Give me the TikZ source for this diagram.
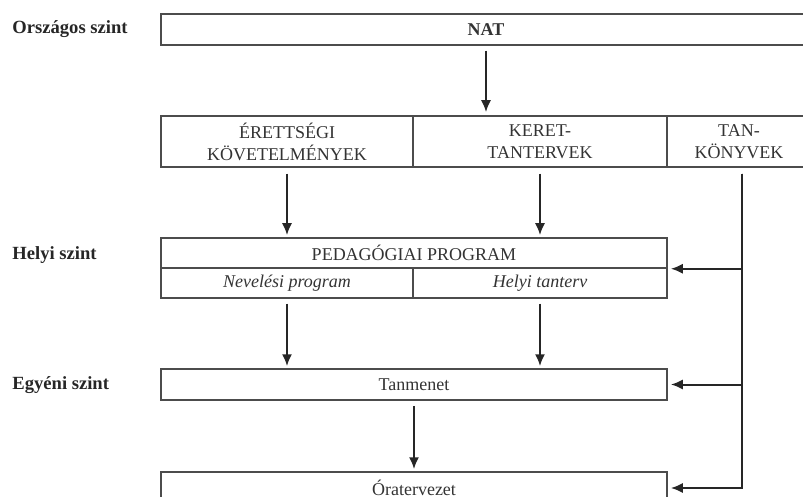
\documentclass[tikz,border=0pt]{standalone}
\usepackage{fontspec}
\setmainfont{Liberation Serif}
\usetikzlibrary{arrows.meta}
\tikzset{
  doboz/.style={draw=black!70, line width=0.75pt, text=black!80, align=center,
    inner sep=0pt, font=\fontsize{9}{11}\selectfont},
  szint/.style={anchor=west, inner sep=0pt, text=black!85, font=\fontsize{9.3}{11}\selectfont\bfseries},
  nyil/.style={-{Latex[length=6pt,width=5pt]}, line width=1pt, draw=black!85},
}
\begin{document}
\begin{tikzpicture}[x=0.5pt, y=-0.5pt]
    \clip (0,0) rectangle (803,497);
    % Szintek
    \node[szint] (orszagos) at (12,29) {Országos szint};
    \node[szint] (helyi) at (12,255) {Helyi szint};
    \node[szint] (egyeni) at (12,385) {Egyéni szint};
    % Országos dokumentumok
    \node[doboz, minimum width=325pt, minimum height=15.5pt, font=\fontsize{9}{11}\selectfont\bfseries] (nat) at (486,29.5) {NAT};
    \node[doboz, minimum width=126pt, minimum height=25.5pt] (erett) at (287,141.5) {ÉRETTSÉGI\\KÖVETELMÉNYEK};
    \node[doboz, minimum width=127pt, minimum height=25.5pt] (keret) at (540,141.5) {KERET-\\TANTERVEK};
    \node[doboz, minimum width=72pt, minimum height=25.5pt] (tank) at (739,141.5) {TAN-\\KÖNYVEK};
    % Helyi dokumentumok
    \node[doboz, minimum width=253pt, minimum height=15pt] (pedprog) at (414,253) {PEDAGÓGIAI PROGRAM};
    \node[doboz, minimum width=126pt, minimum height=15pt] (neveles) at (287,283) {\itshape Nevelési program};
    \node[doboz, minimum width=127pt, minimum height=15pt] (tanterv) at (540,283) {\itshape Helyi tanterv};
    % Egyéni szint
    \node[doboz, minimum width=253pt, minimum height=15.5pt] (tanmenet) at (414,384.5) {Tanmenet};
    \node[doboz, minimum width=253pt, minimum height=16pt] (ora) at (414,488) {Óratervezet};
    % Nyilak lefelé
    \draw[nyil, shorten <=2.5pt, shorten >=1.5pt] (nat.south) -- (nat.south |- keret.north);
    \draw[nyil, shorten <=3pt, shorten >=1pt] (erett.south) -- (erett.south |- pedprog.north);
    \draw[nyil, shorten <=3pt, shorten >=1pt] (keret.south) -- (keret.south |- pedprog.north);
    \draw[nyil, shorten <=2.5pt, shorten >=1pt] (neveles.south) -- (neveles.south |- tanmenet.north);
    \draw[nyil, shorten <=2.5pt, shorten >=1pt] (tanterv.south) -- (tanterv.south |- tanmenet.north);
    \draw[nyil, shorten <=2.5pt, shorten >=1pt] (tanmenet.south) -- (ora.north);
    % Tankönyvek minden szintre
    \draw[nyil] ([xshift=1.5pt, yshift=-3pt]tank.south) |- ([xshift=1.5pt]pedprog.south east);
    \draw[nyil] ([xshift=1.5pt, yshift=-3pt]tank.south) |- ([xshift=1.5pt]tanmenet.east);
    \draw[nyil] ([xshift=1.5pt, yshift=-3pt]tank.south) |- ([xshift=1.5pt]ora.east);
\end{tikzpicture}
\end{document}
